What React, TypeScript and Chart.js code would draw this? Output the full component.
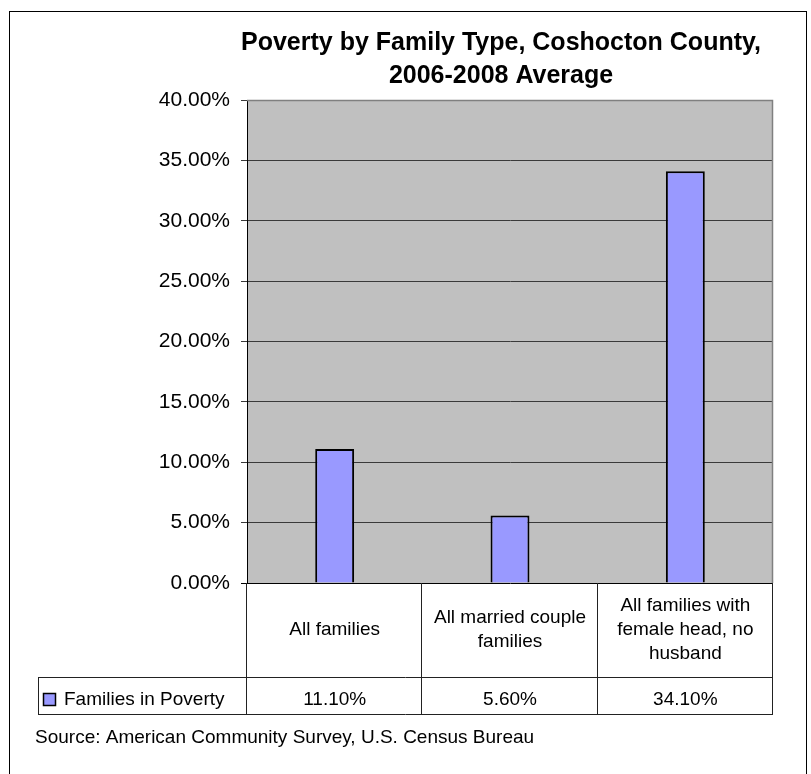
import React, { useEffect, useRef } from "react";
import { Chart, registerables } from "chart.js";

Chart.register(...registerables);

const categories: string[][] = [
  ["All families"],
  ["All married couple", "families"],
  ["All families with", "female head, no", "husband"],
];
const seriesName = "Families in Poverty";
const values = [0.111, 0.056, 0.341];
const valueLabels = ["11.10%", "5.60%", "34.10%"];
const titleLines = ["Poverty by Family Type, Coshocton County,", "2006-2008 Average"];
const sourceText = "Source: American Community Survey, U.S. Census Bureau";
const yMin = 0;
const yMax = 0.4;
const yStep = 0.05;

const FONT = "'Liberation Sans', Arial, sans-serif";
const BAR_FILL = "#9999FF";

const decor = {
  id: "decor",
  beforeDraw(chart: any) {
    const { ctx, chartArea: a } = chart;
    ctx.save();
    ctx.fillStyle = "#ffffff";
    ctx.fillRect(0, 0, chart.width, chart.height);
    ctx.strokeStyle = "#000";
    ctx.lineWidth = 1;
    ctx.strokeRect(9.5, 11.5, 797, 800);
    ctx.fillStyle = "#C0C0C0";
    ctx.fillRect(a.left, a.top, a.right - a.left, a.bottom - a.top);
    ctx.restore();
  },
  afterDraw(chart: any) {
    const { ctx, chartArea: a } = chart;
    ctx.save();
    // plot border top/right
    ctx.strokeStyle = "#808080";
    ctx.lineWidth = 1.5;
    ctx.beginPath();
    ctx.moveTo(a.left, a.top + 0.5);
    ctx.lineTo(a.right - 0.5, a.top + 0.5);
    ctx.lineTo(a.right - 0.5, a.bottom);
    ctx.stroke();

    // title
    ctx.fillStyle = "#000";
    ctx.font = `bold 25px ${FONT}`;
    ctx.textAlign = "center";
    ctx.textBaseline = "alphabetic";
    const tcx = 501;
    ctx.fillText(titleLines[0], tcx, 50);
    ctx.fillText(titleLines[1], tcx, 83);

    // data table
    const n = categories.length;
    const w = (a.right - a.left) / n;
    const r1 = a.bottom + 94;
    const r2 = a.bottom + 131;
    const legendLeft = 38;
    ctx.strokeStyle = "#222";
    ctx.lineWidth = 1;
    ctx.beginPath();
    for (let i = 0; i <= n; i++) {
      const x = Math.round(a.left + i * w) - 0.5;
      ctx.moveTo(x, a.bottom);
      ctx.lineTo(x, r2);
    }
    ctx.moveTo(legendLeft, r1 + 0.5);
    ctx.lineTo(a.right, r1 + 0.5);
    ctx.moveTo(legendLeft, r2 + 0.5);
    ctx.lineTo(a.right, r2 + 0.5);
    ctx.moveTo(legendLeft + 0.5, r1);
    ctx.lineTo(legendLeft + 0.5, r2);
    ctx.stroke();

    ctx.font = `19px ${FONT}`;
    ctx.textAlign = "center";
    ctx.textBaseline = "middle";
    const midY = (a.bottom + r1) / 2;
    categories.forEach((lines, i) => {
      const cx = a.left + (i + 0.5) * w;
      const lh = 24;
      const y0 = midY - ((lines.length - 1) * lh) / 2;
      lines.forEach((l, j) => ctx.fillText(l, cx, y0 + j * lh));
    });
    ctx.textBaseline = "alphabetic";
    valueLabels.forEach((v, i) => {
      const cx = a.left + (i + 0.5) * w;
      ctx.fillText(v, cx, r2 - 9);
    });

    // legend key
    ctx.fillStyle = BAR_FILL;
    ctx.fillRect(43, r2 - 21, 13, 13);
    ctx.strokeStyle = "#000";
    ctx.lineWidth = 1.5;
    ctx.strokeRect(43.5, r2 - 20.5, 12, 12);
    ctx.fillStyle = "#000";
    ctx.textAlign = "left";
    ctx.fillText(seriesName, 64, r2 - 9);

    // source
    ctx.fillText(sourceText, 35, 743);
    ctx.restore();
  },
};

export default function App() {
  const ref = useRef<HTMLCanvasElement>(null);
  useEffect(() => {
    const chart = new Chart(ref.current!, {
      type: "bar",
      data: {
        labels: categories.map((c) => c.join(" ")),
        datasets: [
          {
            label: seriesName,
            data: values,
            backgroundColor: BAR_FILL,
            borderColor: "#000",
            borderWidth: 2,
            barPercentage: 0.222,
            categoryPercentage: 1,
          },
        ],
      },
      options: {
        animation: false,
        responsive: false,
        devicePixelRatio: 1,
        layout: { padding: { top: 100, right: 38, bottom: 191, left: 0 } },
        plugins: {
          legend: { display: false },
          title: { display: false },
          tooltip: { enabled: false },
        },
        scales: {
          x: { display: false },
          y: {
            min: yMin,
            max: yMax,
            afterFit: (scale: any) => {
              scale.width = 247;
            },
            ticks: {
              stepSize: yStep,
              padding: 11,
              color: "#000",
              font: { family: FONT, size: 21 },
              callback: (v: any) => (Number(v) * 100).toFixed(2) + "%",
            },
            grid: {
              color: (c: any) => (c.tick && c.tick.value === 0 ? "#000" : "#3a3a3a"),
              lineWidth: 1,
              tickLength: 6,
              drawOnChartArea: true,
            },
            border: { display: true, color: "#000", width: 1 },
          },
        },
      },
      plugins: [decor],
    });
    return () => chart.destroy();
  }, []);
  return (
    <div style={{ position: "absolute", left: 0, top: 0, width: 811, height: 774 }}>
      <canvas ref={ref} width={811} height={774} style={{ display: "block" }} />
    </div>
  );
}
